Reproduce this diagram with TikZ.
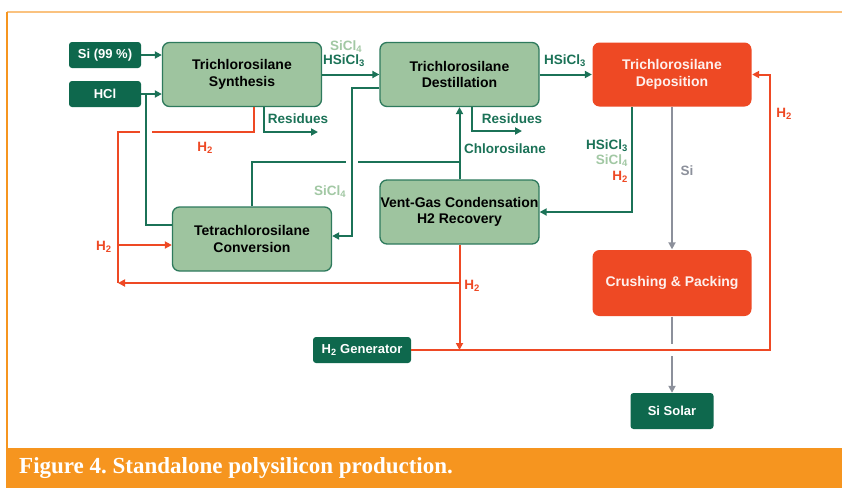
\documentclass[tikz,border=0pt]{standalone}
\usepackage{fontspec}
\setmainfont{Liberation Serif}
\setsansfont{Liberation Sans}
\usetikzlibrary{arrows.meta,positioning,calc}
\frenchspacing

\definecolor{feedgreen}{HTML}{0E684D}
\definecolor{linegreen}{HTML}{1B7257}
\definecolor{boxfill}{HTML}{9EC49F}
\definecolor{boxedge}{HTML}{2E7A5D}
\definecolor{hotred}{HTML}{EE4924}
\definecolor{palegreen}{HTML}{A2C8A4}
\definecolor{sigrey}{HTML}{8C909B}
\definecolor{caporange}{HTML}{F6951F}
\definecolor{framelight}{HTML}{FAC27F}

\begin{document}
\begin{tikzpicture}[
  x=1pt,
  y=-1pt,
  proc/.style={draw=boxedge, line width=1.3pt, fill=boxfill, rounded corners=7pt,
    minimum width=159pt, minimum height=64pt, inner sep=0pt, align=center,
    font=\sffamily\bfseries\fontsize{14}{16.5}\selectfont},
  hot/.style={proc, draw=none, fill=hotred, text=white!92!hotred},
  feed/.style={fill=feedgreen, text=white, rounded corners=3pt, minimum height=26pt,
    inner sep=0pt, font=\sffamily\bfseries\fontsize{13}{15}\selectfont},
  gflow/.style={draw=linegreen, line width=2pt},
  hflow/.style={draw=hotred, line width=2pt},
  sflow/.style={draw=sigrey, line width=2pt},
  arr/.style={-{Triangle[length=7pt,width=7pt]}},
  gap/.style={draw=white, line width=5pt},
  lbl/.style={font=\sffamily\bfseries\fontsize{13.5}{15}\selectfont, inner sep=0pt}
]
  \useasboundingbox (0,0) rectangle (842,488);
  \fill[white] (0,0) rectangle (842,488);

  % frame and caption
  \draw[framelight, line width=1.3pt] (7,12) -- (842,12);
  \draw[caporange, line width=1.5pt] (7,12) -- (7,448);
  \fill[caporange] (6.25,448) rectangle (842,488);
  \node[anchor=west, text=white, inner sep=0pt,
    font=\bfseries\fontsize{23}{26}\selectfont] (caption) at (19,468)
    {Figure 4. Standalone polysilicon production.};

  % process boxes
  \node[feed, minimum width=72pt] (si) at (105,55) {Si (99 \%)};
  \node[feed, minimum width=72pt] (hcl) at (105,94) {HCl};
  \node[proc] (synth) at (242,74.5) {Trichlorosilane\\Synthesis};
  \node[proc] (dest) at (459.5,74.5) {Trichlorosilane\\Destillation};
  \node[hot] (depo) at (672,74.5) {Trichlorosilane\\Deposition};
  \node[proc] (conv) at (252,239) {Tetrachlorosilane\\Conversion};
  \node[proc] (vent) at (459.5,212) {Vent-Gas Condensation\\H2 Recovery};
  \node[hot, minimum height=66pt] (crush) at (672,283) {Crushing \& Packing};
  \node[feed, minimum width=98pt] (gen) at (362,350) {H\textsubscript{2} Generator};
  \node[feed, minimum width=83pt, minimum height=36pt] (solar) at (672,411) {Si Solar};

  % junction points
  \coordinate (hcltee) at (146,94);
  \coordinate (h2tl) at (118,132);
  \coordinate (h2bl) at (118,283);
  \coordinate (res1) at (318,132);
  \coordinate (res2) at (522,131);
  \coordinate (cltee) at (459.5,162);
  \coordinate (sibend) at (352,236);
  \coordinate (h2ret) at (770,350);

  % feeds
  \draw[gflow,arr] (si) -- (synth.west |- si);
  \draw[gflow,arr] (hcl) -- (synth.west |- hcl);

  % hydrogen loop on the left
  \draw[hflow] ($(synth.south)+(12,0)$) |- (h2tl) -- (h2bl);
  \draw[hflow,arr] ($(h2tl |- conv.west)+(0,6)$) -- ($(conv.west)+(0,6)$);
  \draw[gap, line width=4pt] ($(hcltee |- h2tl)+(-6,0)$) -- ($(hcltee |- h2tl)+(6,0)$);
  \draw[gflow] (hcltee) |- ($(conv.west)+(0,-14)$);

  % chlorosilane streams
  \draw[gflow,arr] (synth) -- (dest);
  \draw[gflow,arr] ($(synth.south)+(22,0)$) |- (res1);
  \draw[gflow,arr] (dest) -- (depo);
  \draw[gflow,arr] ($(dest.south)+(12,0)$) |- (res2);
  \draw[gflow,arr] (vent) -- (dest);
  \draw[gflow] (conv.north) |- (cltee);
  \draw[gap, line width=4pt] ($(sibend |- cltee)+(-6,0)$) -- ($(sibend |- cltee)+(6,0)$);
  \draw[gflow,arr] ($(dest.west)+(0,13.5)$) -| (sibend) -- (conv.east |- sibend);
  \draw[gflow,arr] ($(depo.south)+(-40,0)$) |- (vent.east);

  % silicon
  \draw[sflow,arr] (depo) -- (crush);
  \draw[sflow,arr] (crush) -- (solar);

  % hydrogen from recovery and generator
  \draw[hflow,arr] (vent) -- (vent.south |- gen);
  \draw[hflow,arr] (vent.south |- h2bl) -- (h2bl);
  \draw[gap, line width=4pt] ($(crush.south |- gen)+(0,-6)$) -- ($(crush.south |- gen)+(0,6)$);
  \draw[hflow,arr] (gen) -- (h2ret) |- (depo.east);

  % labels
  \node[lbl, text=palegreen] (l1) at (346,47) {SiCl\textsubscript{4}};
  \node[lbl, text=linegreen] (l2) at (344,61) {HSiCl\textsubscript{3}};
  \node[lbl, text=linegreen] (l3) at (298,119) {Residues};
  \node[lbl, text=hotred] (l4) at (205,148) {H\textsubscript{2}};
  \node[lbl, text=hotred] (l5) at (104,247) {H\textsubscript{2}};
  \node[lbl, text=palegreen] (l6) at (330,192) {SiCl\textsubscript{4}};
  \node[lbl, text=linegreen] (l7) at (512,119) {Residues};
  \node[lbl, text=linegreen] (l8) at (505,149) {Chlorosilane};
  \node[lbl, text=linegreen] (l9) at (565,61) {HSiCl\textsubscript{3}};
  \node[lbl, text=linegreen, anchor=east] (l10) at (628,146) {HSiCl\textsubscript{3}};
  \node[lbl, text=palegreen, anchor=east] (l11) at (628,161) {SiCl\textsubscript{4}};
  \node[lbl, text=hotred, anchor=east] (l12) at (628,177) {H\textsubscript{2}};
  \node[lbl, text=sigrey] (l13) at (687,171) {Si};
  \node[lbl, text=hotred] (l14) at (472,286) {H\textsubscript{2}};
  \node[lbl, text=hotred] (l15) at (784,114) {H\textsubscript{2}};
\end{tikzpicture}
\end{document}
